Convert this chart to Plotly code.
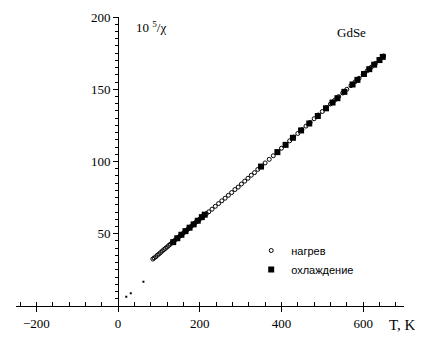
import plotly.graph_objects as go

# heating (нагрев)
heat_T = [85, 88, 92, 96, 100, 104, 108, 112, 116, 120, 124, 128, 132, 136, 140, 144, 148, 152,
          156, 160, 164, 168, 172, 176, 180, 184, 188, 192, 196, 200, 204, 208, 212, 216, 222,
          230, 238, 246, 254, 262, 270, 278, 286, 294, 302, 310, 318, 326, 334, 342, 350, 360,
          370, 380, 390, 400, 410, 420, 430, 440, 450, 460, 470, 480, 490, 500, 510, 520, 530,
          540, 550, 560, 570, 580, 590, 600, 610, 620, 630, 640, 650]
heat_v = [32.5, 33.2, 34.0, 35.1, 36.0, 37.0, 38.0, 39.0, 39.9, 40.8, 41.9, 42.8, 43.8, 44.7,
          45.8, 46.6, 47.7, 48.6, 49.6, 50.5, 51.6, 52.4, 53.5, 54.4, 55.4, 56.3, 57.4, 58.3,
          59.4, 60.2, 61.3, 62.2, 63.0, 63.9, 65.2, 67.0, 69.0, 70.9, 72.8, 74.6, 76.6, 78.5,
          80.6, 82.3, 84.4, 86.4, 88.4, 90.5, 92.3, 94.5, 96.4, 99.0, 101.5, 104.0, 106.6,
          109.2, 111.8, 114.3, 116.9, 119.4, 122.0, 124.5, 127.0, 129.6, 132.2, 134.6, 137.3,
          139.8, 142.3, 144.9, 147.4, 150.0, 152.5, 155.1, 157.6, 160.2, 162.8, 165.3, 167.9,
          170.4, 173.0]

# low-temperature dots
low_T = [20, 31, 62]
low_v = [6.4, 8.8, 16.8]

# cooling (охлаждение)
cool_T = [135, 145, 155, 165, 175, 185, 195, 205, 212, 350, 390, 410, 428, 448, 468, 489, 509,
          525, 537, 554, 574, 586, 602, 615, 627, 640, 648]
cool_v = [44.2, 46.9, 49.3, 51.8, 54.2, 56.5, 59.0, 61.5, 63.2, 96.5, 106.5, 111.5, 116.4,
          121.5, 126.3, 131.5, 136.8, 140.8, 143.8, 148.2, 153.3, 156.5, 160.6, 163.9, 167.0,
          170.2, 172.4]

x_ticks = [-200, 0, 200, 400, 600]
y_ticks = [50, 100, 150, 200]

serif = "Liberation Serif"
OFF = 8  # page body margin offset
W, H = 423 - OFF, 347 - OFF

# plot area in page pixels
L, R, T, B = 15.5, 404, 17, 306
ml, mr, mt, mb = L - OFF, (W + OFF) - R, T - OFF, (H + OFF) - B

def px(xp, yp):
    return (xp - L) / (R - L), 1 - (yp - T) / (B - T)

fig = go.Figure()
fig.add_trace(go.Scatter(
    x=heat_T, y=heat_v, mode="markers", name="нагрев",
    marker=dict(symbol="circle-open", size=4, color="black", line=dict(width=1, color="black")),
))
fig.add_trace(go.Scatter(
    x=cool_T, y=cool_v, mode="markers", name="охлаждение",
    marker=dict(symbol="square", size=6, color="black"),
))
fig.add_trace(go.Scatter(
    x=low_T, y=low_v, mode="markers", showlegend=False,
    marker=dict(symbol="square", size=2, color="black"),
))

lg = px(251, 236)
fig.update_layout(
    width=W, height=H,
    margin=dict(l=ml, r=mr, t=mt, b=mb, autoexpand=False),
    paper_bgcolor="white", plot_bgcolor="white",
    showlegend=True,
    legend=dict(x=lg[0], y=lg[1], xanchor="left", yanchor="top",
                font=dict(family="Liberation Sans", size=11, color="black"),
                bgcolor="rgba(0,0,0,0)", itemwidth=30, tracegroupgap=0),
    xaxis=dict(
        range=[-250, 700], tickmode="array", tickvals=x_ticks,
        ticks="outside", ticklen=5, tickwidth=1, tickcolor="black",
        showline=True, linecolor="black", linewidth=1,
        showgrid=False, zeroline=False,
        tickfont=dict(family=serif, size=13, color="black"),
        minor=dict(dtick=40, tick0=0, ticks="inside", ticklen=4, tickcolor="black", showgrid=False),
    ),
    yaxis=dict(
        range=[0, 200], tickmode="array", tickvals=y_ticks,
        anchor="free", position=250 / 950,
        ticks="outside", ticklen=5, tickwidth=1, tickcolor="black",
        showline=True, linecolor="black", linewidth=1,
        showgrid=False, zeroline=False,
        tickfont=dict(family=serif, size=13, color="black"),
        minor=dict(dtick=5, tick0=0, ticks="outside", ticklen=3, tickcolor="black", showgrid=False),
    ),
)

ax1 = px(134, 27)
ax2 = px(402, 325)
ax3 = px(351, 33)
fig.add_annotation(text="10 <sup>5</sup>/χ", x=ax1[0], y=ax1[1], xref="paper", yref="paper",
                   xanchor="left", yanchor="middle", showarrow=False,
                   font=dict(family=serif, size=13, color="black"))
fig.add_annotation(text="T, K", x=ax2[0], y=ax2[1], xref="paper", yref="paper",
                   xanchor="center", yanchor="middle", showarrow=False,
                   font=dict(family=serif, size=15, color="black"))
fig.add_annotation(text="GdSe", x=ax3[0], y=ax3[1], xref="paper", yref="paper",
                   xanchor="center", yanchor="middle", showarrow=False,
                   font=dict(family=serif, size=13, color="black"))

fig.write_html("out.html")
